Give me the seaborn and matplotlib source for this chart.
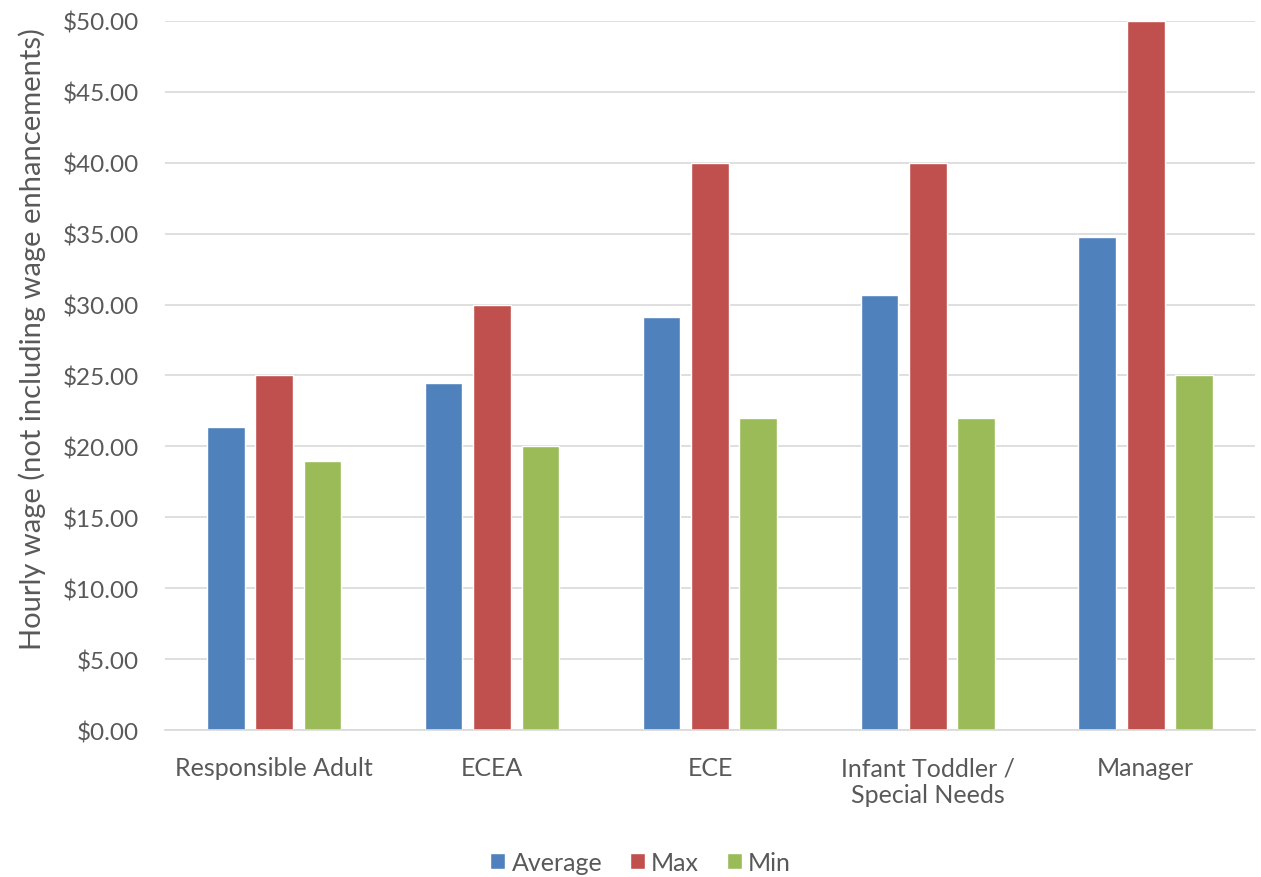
import matplotlib
matplotlib.use("Agg")
import matplotlib.pyplot as plt
import seaborn as sns
import pandas as pd
from matplotlib.ticker import FuncFormatter, MultipleLocator
from matplotlib.patches import Patch

categories = ["Responsible Adult", "ECEA", "ECE", "Infant Toddler /\nSpecial Needs", "Manager"]
average = [21.35, 24.5, 29.15, 30.65, 34.75]
maximum = [25, 30, 40, 40, 50]
minimum = [19, 20, 22, 22, 25]
series_names = ["Average", "Max", "Min"]
colors = ["#4F81BD", "#C0504D", "#9BBB59"]

rows = []
for name, vals in zip(series_names, [average, maximum, minimum]):
    for c, v in zip(categories, vals):
        rows.append({"category": c, "series": name, "value": v})
df = pd.DataFrame(rows)

sns.set_style("white")
plt.rcParams["font.family"] = ["Lato", "DejaVu Sans"]

fig = plt.figure(figsize=(12.61, 8.78), dpi=100)
ax = fig.add_axes([0.131, 0.1674, 0.864, 0.8076])

sns.barplot(data=df, x="category", y="value", hue="series", order=categories,
            hue_order=series_names, palette=colors, width=0.667, gap=0.22,
            saturation=1, ax=ax, legend=False, errorbar=None)

ax.set_ylim(0, 50)
ax.set_xlim(-0.5, 4.5)
ax.yaxis.set_major_locator(MultipleLocator(5))
ax.yaxis.set_major_formatter(FuncFormatter(lambda v, p: f"${v:.2f}"))
ax.grid(axis="y", color="#D9D9D9", linewidth=1.2)
ax.set_axisbelow(True)
for s in ["left", "right", "top"]:
    ax.spines[s].set_visible(False)
ax.spines["bottom"].set_color("#D9D9D9")
ax.spines["bottom"].set_linewidth(1.2)
ax.tick_params(axis="y", length=0, labelsize=17.5, labelcolor="#595959", pad=19)
ax.tick_params(axis="x", length=0, labelsize=18, labelcolor="#595959", pad=19)
ax.set_xlabel("")
ax.set_ylabel("Hourly wage (not including wage enhancements)", fontsize=21, color="#595959")
ax.yaxis.set_label_coords(-0.109, 0.553)

handles = [Patch(facecolor=c, label=n) for c, n in zip(colors, series_names)]
fig.legend(handles=handles, loc="center", bbox_to_anchor=(0.508, 0.017), ncol=3, frameon=False,
           fontsize=18, labelcolor="#595959", handlelength=0.6, handleheight=0.6,
           handletextpad=0.25, columnspacing=1.1)

fig.savefig("out.png", dpi=100)
